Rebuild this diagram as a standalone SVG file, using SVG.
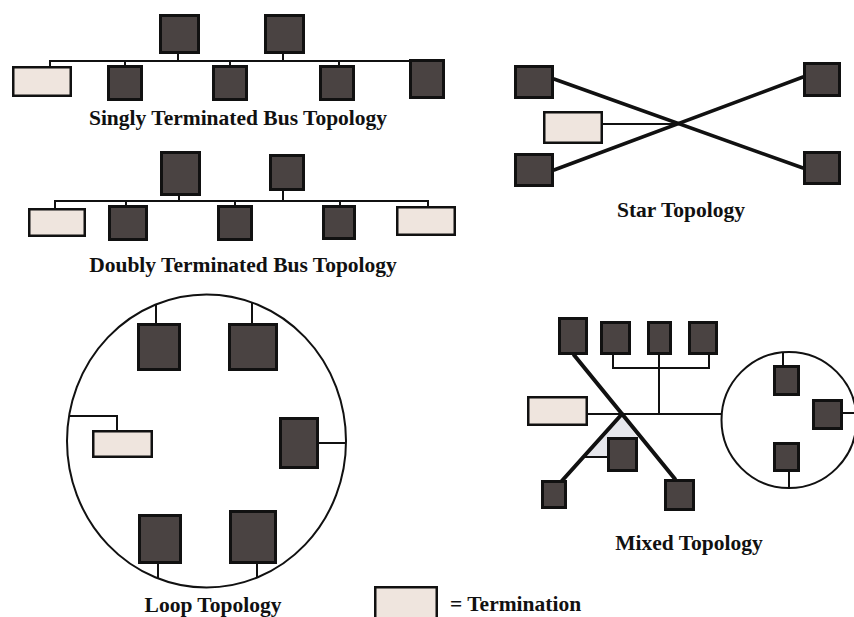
<svg xmlns="http://www.w3.org/2000/svg" width="854" height="617" viewBox="0 0 854 617">
<style>
.n{fill:#4a4342;stroke:#111;stroke-width:3}
.t{fill:#efe5de;stroke:#111;stroke-width:2.5}
.w{stroke:#111;stroke-width:2;fill:none}
.k{stroke:#111;stroke-width:3.5;fill:none;stroke-linecap:round}
.ring{stroke:#111;stroke-width:2;fill:none}
.lbl{font-family:"Liberation Serif","Times New Roman",serif;font-weight:bold;font-size:21.5px;fill:#111;text-anchor:middle}
</style>
<rect x="0" y="0" width="854" height="617" fill="#ffffff"/>

<g id="connectors">
  <!-- singly terminated bus -->
  <path class="w" d="M50,66V61H410"/>
  <path class="w" d="M125,61V66M230,61V66M339,61V66M178,54V61M283,54V61"/>
  <!-- doubly terminated bus -->
  <path class="w" d="M55,208V201H428V206"/>
  <path class="w" d="M126,201V205M235,201V205M340,201V205M179,196V201M283,191V201"/>
  <!-- star -->
  <path class="k" d="M554,79L803,168"/>
  <path class="k" d="M554,170L803,77"/>
  <path class="w" d="M603,124H678"/>
  <!-- loop -->
  <ellipse class="ring" cx="206.5" cy="441" rx="139.5" ry="146.5"/>
  <path class="w" d="M156,304V323M252,302V323M69,416H117V430M319,443H346M158,564V578M257,564V577"/>
  <!-- mixed -->
  <polygon points="622,416 585,457 607,457 607,437 637,437" fill="#e6e7ec"/>
  <path class="w" d="M613,355V368H709V355M659,355V414M588,414H721.5M585,457H607"/>
  <path class="k" d="M574,355L675,479" style="stroke-width:4"/>
  <path class="k" d="M622,414L560,483" style="stroke-width:4"/>
  <ellipse class="ring" cx="789" cy="420" rx="67.5" ry="68"/>
  <path class="w" d="M783,352V365M789,472V488M843,413H856"/>
</g>

<g id="singly">
  <g id="s_top1"><rect class="n" x="160.5" y="15.5" width="38" height="37"/></g>
  <g id="s_top2"><rect class="n" x="265.5" y="15.5" width="38" height="37"/></g>
  <g id="s_term"><rect class="t" x="13.25" y="67.25" width="57.5" height="28.5"/></g>
  <g id="s_n2"><rect class="n" x="108.5" y="66.5" width="33" height="33"/></g>
  <g id="s_n3"><rect class="n" x="213.5" y="66.5" width="33" height="33"/></g>
  <g id="s_n4"><rect class="n" x="320.5" y="66.5" width="33" height="33"/></g>
  <g id="s_n5"><rect class="n" x="410.5" y="60.5" width="33" height="37"/></g>
  <text class="lbl" x="238" y="125">Singly Terminated Bus Topology</text>
</g>

<g id="doubly">
  <g id="d_top1"><rect class="n" x="161.5" y="152.5" width="38" height="42"/></g>
  <g id="d_top2"><rect class="n" x="270.5" y="155.5" width="33" height="34"/></g>
  <g id="d_term1"><rect class="t" x="29.25" y="209.25" width="55.5" height="26.5"/></g>
  <g id="d_n2"><rect class="n" x="109.5" y="206.5" width="37" height="33"/></g>
  <g id="d_n3"><rect class="n" x="218.5" y="206.5" width="33" height="33"/></g>
  <g id="d_n4"><rect class="n" x="323.5" y="206.5" width="31" height="32"/></g>
  <g id="d_term2"><rect class="t" x="397.25" y="207.25" width="57.5" height="27.5"/></g>
  <text class="lbl" x="243" y="272">Doubly Terminated Bus Topology</text>
</g>

<g id="star">
  <g id="st_tl"><rect class="n" x="515.5" y="66.5" width="37" height="31"/></g>
  <g id="st_bl"><rect class="n" x="515.5" y="154.5" width="37" height="31"/></g>
  <g id="st_term"><rect class="t" x="544.25" y="112.25" width="57.5" height="30.5"/></g>
  <g id="st_tr"><rect class="n" x="804.5" y="63.5" width="35" height="32"/></g>
  <g id="st_br"><rect class="n" x="804.5" y="152.5" width="35" height="31"/></g>
  <text class="lbl" x="681" y="217">Star Topology</text>
</g>

<g id="loop">
  <g id="l_tl"><rect class="n" x="138.5" y="324.5" width="41" height="45"/></g>
  <g id="l_tr"><rect class="n" x="229.5" y="324.5" width="47" height="45"/></g>
  <g id="l_term"><rect class="t" x="93.25" y="431.25" width="58.5" height="25.5"/></g>
  <g id="l_r"><rect class="n" x="280.5" y="418.5" width="37" height="49"/></g>
  <g id="l_bl"><rect class="n" x="139.5" y="515.5" width="41" height="47"/></g>
  <g id="l_br"><rect class="n" x="230.5" y="511.5" width="45" height="51"/></g>
  <text class="lbl" x="213" y="611.5">Loop Topology</text>
</g>

<g id="mixed">
  <g id="m_a"><rect class="n" x="559.5" y="318.5" width="27" height="35"/></g>
  <g id="m_b"><rect class="n" x="601.5" y="322.5" width="28" height="31"/></g>
  <g id="m_c"><rect class="n" x="648.5" y="322.5" width="22" height="31"/></g>
  <g id="m_d"><rect class="n" x="689.5" y="322.5" width="27" height="31"/></g>
  <g id="m_term"><rect class="t" x="528.25" y="397.25" width="58.5" height="27.5"/></g>
  <g id="m_e"><rect class="n" x="608.5" y="438.5" width="28" height="32"/></g>
  <g id="m_bl"><rect class="n" x="542.5" y="481.5" width="23" height="26"/></g>
  <g id="m_br"><rect class="n" x="665.5" y="480.5" width="28" height="29"/></g>
  <g id="m_ct"><rect class="n" x="774.5" y="366.5" width="24" height="28"/></g>
  <g id="m_cr"><rect class="n" x="813.5" y="400.5" width="28" height="28"/></g>
  <g id="m_cb"><rect class="n" x="774.5" y="443.5" width="24" height="27"/></g>
  <text class="lbl" x="689" y="550">Mixed Topology</text>
</g>

<g id="legend">
  <g id="legend_term"><rect class="t" x="375.25" y="587.25" width="61.5" height="40"/></g>
  <text class="lbl" x="450" y="611" style="text-anchor:start">= Termination</text>
</g>
</svg>
